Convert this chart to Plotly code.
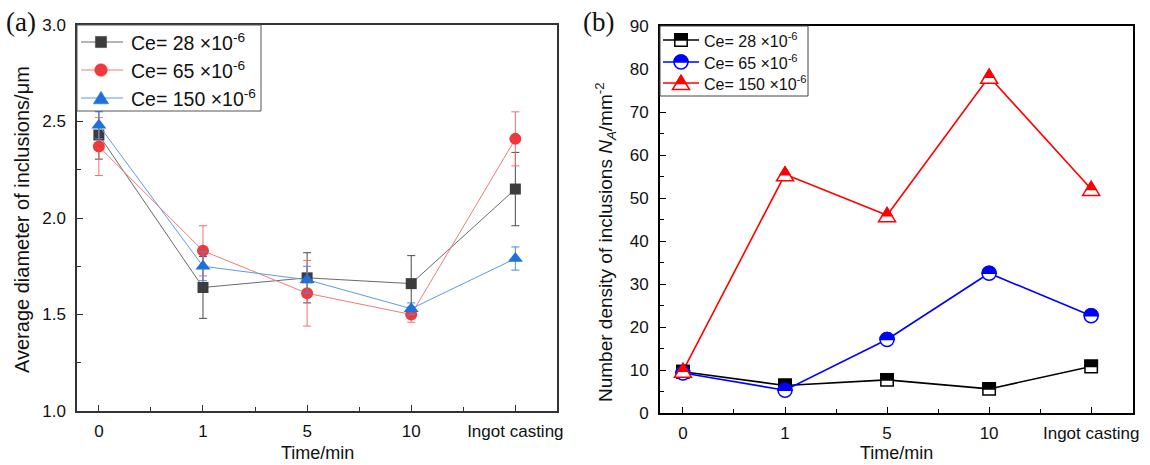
import plotly.graph_objects as go

# ---------------- data ----------------
categories = ["0", "1", "5", "10", "Ingot casting"]
ce_labels = ["28", "65", "150"]

# panel (a): average diameter of inclusions (um) with error bars
diam_28 = [2.43, 1.64, 1.69, 1.66, 2.15]
diam_28_err = [0.125, 0.16, 0.13, 0.145, 0.19]
diam_65 = [2.37, 1.83, 1.61, 1.50, 2.41]
diam_65_err = [0.15, 0.13, 0.17, 0.04, 0.14]
diam_150 = [2.48, 1.75, 1.68, 1.53, 1.79]
diam_150_err = [0.07, 0.075, 0.07, 0.03, 0.06]

# panel (b): number density of inclusions (mm^-2)
dens_28 = [9.6, 6.4, 7.7, 5.6, 10.8]
dens_65 = [9.3, 5.3, 17.1, 32.5, 22.6]
dens_150 = [9.8, 55.5, 46.0, 78.2, 52.1]

# ---------------- styling ----------------
W, H = 1150, 465
FONT = "Liberation Sans"
a_marker_cols = ["#3c3c3c", "#ee3a3a", "#1f6fdc"]
a_line_cols = ["#6a6a6a", "#f07a7a", "#5f9ae6"]
a_err_cols = ["#4a4a4a", "#f07070", "#4a8ae0"]
b_cols = ["#000000", "#0000ff", "#ff0000"]

x_idx = list(range(len(categories)))


def px(x):
    return x / W


def py(y):
    return 1 - y / H


def sq_path(h):
    return f"M {-h},{-h} L {h},{-h} L {h},{h} L {-h},{h} Z"


def sq_top(h):
    return f"M {-h},0 L {h},0 L {h},{h} L {-h},{h} Z"


K = 0.5523


def circ_path(r):
    k = K * r
    return (f"M {r},0 C {r},{k} {k},{r} 0,{r} C {-k},{r} {-r},{k} {-r},0 "
            f"C {-r},{-k} {-k},{-r} 0,{-r} C {k},{-r} {r},{-k} {r},0 Z")


def circ_top(r):
    k = K * r
    return f"M {-r},0 C {-r},{k} {-k},{r} 0,{r} C {k},{r} {r},{k} {r},0 Z"


def tri_path(hw, top, bot):
    return f"M {-hw},{-bot} L {hw},{-bot} L 0,{top} Z"


def tri_top(hw, top, bot, ymid):
    frac = (top - ymid) / (top + bot)
    w = hw * frac
    return f"M {-w},{ymid} L {w},{ymid} L 0,{top} Z"


def marker_shapes(kind, color, xanchor, yanchor, xref, yref, half=True, lw=1.5, scale=1.0):
    shapes = []
    if kind == "square":
        h = 6.2 * scale
        full, top = sq_path(h), sq_top(h)
    elif kind == "circle":
        r = 7.0 * scale
        full, top = circ_path(r), circ_top(r)
    else:
        hw, tp, bt = 8.5 * scale, 7.5 * scale, 6.5 * scale
        full, top = tri_path(hw, tp, bt), tri_top(hw, tp, bt, -0.5 * scale)
    common = dict(type="path", xsizemode="pixel", ysizemode="pixel",
                  xanchor=xanchor, yanchor=yanchor, xref=xref, yref=yref, layer="above")
    if half:
        shapes.append(dict(path=full, fillcolor="white", line=dict(color=color, width=lw), **common))
        shapes.append(dict(path=top, fillcolor=color, line=dict(color=color, width=lw), **common))
    else:
        shapes.append(dict(path=full, fillcolor=color, line=dict(color=color, width=0.5), **common))
    return shapes


fig = go.Figure()

# ---------------- panel (a) ----------------
a_series = [(diam_28, diam_28_err, "square", 11), (diam_65, diam_65_err, "circle", 12),
            (diam_150, diam_150_err, "triangle-up", 13)]
for i, (vals, errs, sym, size) in enumerate(a_series):
    fig.add_trace(go.Scatter(
        x=x_idx, y=vals, mode="lines+markers", xaxis="x", yaxis="y",
        name=f"Ce= {ce_labels[i]} ×10<sup>-6</sup>", showlegend=False,
        line=dict(color=a_line_cols[i], width=1),
        marker=dict(symbol=sym, size=size, color=a_marker_cols[i], line=dict(width=0)),
        error_y=dict(type="data", array=errs, visible=True, color=a_err_cols[i],
                     thickness=1, width=4),
    ))

# ---------------- panel (b) ----------------
b_series = [(dens_28, "square"), (dens_65, "circle"), (dens_150, "triangle")]
shapes = []
for i, (vals, kind) in enumerate(b_series):
    fig.add_trace(go.Scatter(
        x=x_idx, y=vals, mode="lines+markers", xaxis="x2", yaxis="y2",
        name=f"Ce= {ce_labels[i]} ×10<sup>-6</sup>", showlegend=False,
        line=dict(color=b_cols[i], width=1.6),
        marker=dict(symbol={"square": "square", "circle": "circle", "triangle": "triangle-up"}[kind],
                    size=8, color="white"),
    ))
    for xv, yv in zip(x_idx, vals):
        shapes += marker_shapes(kind, b_cols[i], xv, yv, "x2", "y2")

# ---------------- legends (drawn manually) ----------------
annotations = []
# legend (a)
shapes.append(dict(type="rect", xref="paper", yref="paper", x0=px(77), x1=px(261),
                   y0=py(111), y1=py(25), line=dict(color="#555555", width=1), fillcolor="white",
                   layer="above"))
a_kinds = ["square", "circle", "triangle"]
for i, yy in enumerate([42, 70, 98]):
    shapes.append(dict(type="line", xref="paper", yref="paper", x0=px(81), x1=px(123),
                       y0=py(yy), y1=py(yy), line=dict(color=a_line_cols[i], width=1), layer="above"))
    shapes += marker_shapes(a_kinds[i], a_marker_cols[i], px(101), py(yy), "paper", "paper",
                            half=False, scale=0.9)
    annotations.append(dict(x=px(129), y=py(yy), xref="paper", yref="paper", xanchor="left",
                            yanchor="middle", showarrow=False,
                            text=f"Ce= {ce_labels[i]} ×10<sup>-6</sup>",
                            font=dict(family=FONT, size=19.5, color="#111")))
# legend (b)
shapes.append(dict(type="rect", xref="paper", yref="paper", x0=px(660), x1=px(808),
                   y0=py(96), y1=py(26), line=dict(color="#444444", width=1), fillcolor="white",
                   layer="above"))
for i, yy in enumerate([40, 62, 83]):
    shapes.append(dict(type="line", xref="paper", yref="paper", x0=px(663), x1=px(699),
                       y0=py(yy), y1=py(yy), line=dict(color=b_cols[i], width=1.6), layer="above"))
    shapes += marker_shapes(a_kinds[i], b_cols[i], px(681), py(yy), "paper", "paper")
    annotations.append(dict(x=px(702), y=py(yy), xref="paper", yref="paper", xanchor="left",
                            yanchor="middle", showarrow=False,
                            text=f"Ce= {ce_labels[i]} ×10<sup>-6</sup>",
                            font=dict(family=FONT, size=16, color="#111")))

# ---------------- titles / labels ----------------
annotations += [
    dict(x=px(22), y=py(220), xref="paper", yref="paper", textangle=-90, showarrow=False,
         xanchor="center", yanchor="middle",
         text="Average diameter of inclusions/μm", font=dict(family=FONT, size=20, color="#111")),
    dict(x=px(606), y=py(242), xref="paper", yref="paper", textangle=-90, showarrow=False,
         xanchor="center", yanchor="middle",
         text="Number density of inclusions <i>N<sub>A</sub></i>/mm<sup>-2</sup>",
         font=dict(family=FONT, size=19, color="#111")),
    dict(x=px(317), y=py(453), xref="paper", yref="paper", showarrow=False, text="Time/min",
         xanchor="center", yanchor="middle", font=dict(family=FONT, size=18, color="#111")),
    dict(x=px(896), y=py(453), xref="paper", yref="paper", showarrow=False, text="Time/min",
         xanchor="center", yanchor="middle", font=dict(family=FONT, size=18, color="#111")),
    dict(x=px(4), y=py(22), xref="paper", yref="paper", xanchor="left", yanchor="middle",
         showarrow=False, text="(a)", font=dict(family="Liberation Serif", size=27, color="#111")),
    dict(x=px(581), y=py(22), xref="paper", yref="paper", xanchor="left", yanchor="middle",
         showarrow=False, text="(b)", font=dict(family="Liberation Serif", size=27, color="#111")),
]

tickfont = dict(family=FONT, size=17, color="#111")


def xaxis_cfg(domain, rng, lc, lw):
    return dict(domain=domain, range=rng, tickmode="array", tickvals=x_idx, ticktext=categories,
                ticks="inside", ticklen=6, tickwidth=1.2, tickcolor=lc, showline=True,
                linecolor=lc, linewidth=lw, mirror=True, showgrid=False, zeroline=False,
                tickfont=tickfont, ticklabelstandoff=4, automargin=False,
                minor=dict(tickmode="array", tickvals=[0.5, 1.5, 2.5, 3.5], ticks="inside",
                           ticklen=4, tickwidth=1.2, tickcolor=lc, showgrid=False))


def yaxis_cfg(domain, rng, dtick, mdtick, anchor, lc, lw, fmt):
    return dict(domain=domain, range=rng, anchor=anchor, tick0=0, dtick=dtick, ticks="inside",
                ticklen=6, tickwidth=1.2, tickcolor=lc, showline=True, linecolor=lc,
                linewidth=lw, mirror=True, showgrid=False, zeroline=False, tickfont=tickfont,
                tickformat=fmt, ticklabelstandoff=6, automargin=False,
                minor=dict(dtick=mdtick, ticks="inside", ticklen=4, tickwidth=1.2,
                           tickcolor=lc, showgrid=False))


fig.update_layout(
    width=W, height=H, margin=dict(l=0, r=0, t=0, b=0, autoexpand=False),
    paper_bgcolor="white", plot_bgcolor="white", showlegend=False,
    font=dict(family=FONT, color="#111"),
    xaxis=xaxis_cfg([px(77), px(557)], [-0.21, 4.4], "#333333", 1.5) | dict(anchor="y"),
    yaxis=yaxis_cfg([py(411), py(25)], [1.0, 3.0], 0.5, 0.25, "x", "#333333", 1.5, ".1f"),
    xaxis2=xaxis_cfg([px(660), px(1133)], [-0.225, 4.41], "#000000", 2) | dict(anchor="y2"),
    yaxis2=yaxis_cfg([py(413), py(26)], [0, 90], 10, 5, "x2", "#000000", 2, "d"),
    shapes=shapes, annotations=annotations,
)

fig.write_html("out.html")
